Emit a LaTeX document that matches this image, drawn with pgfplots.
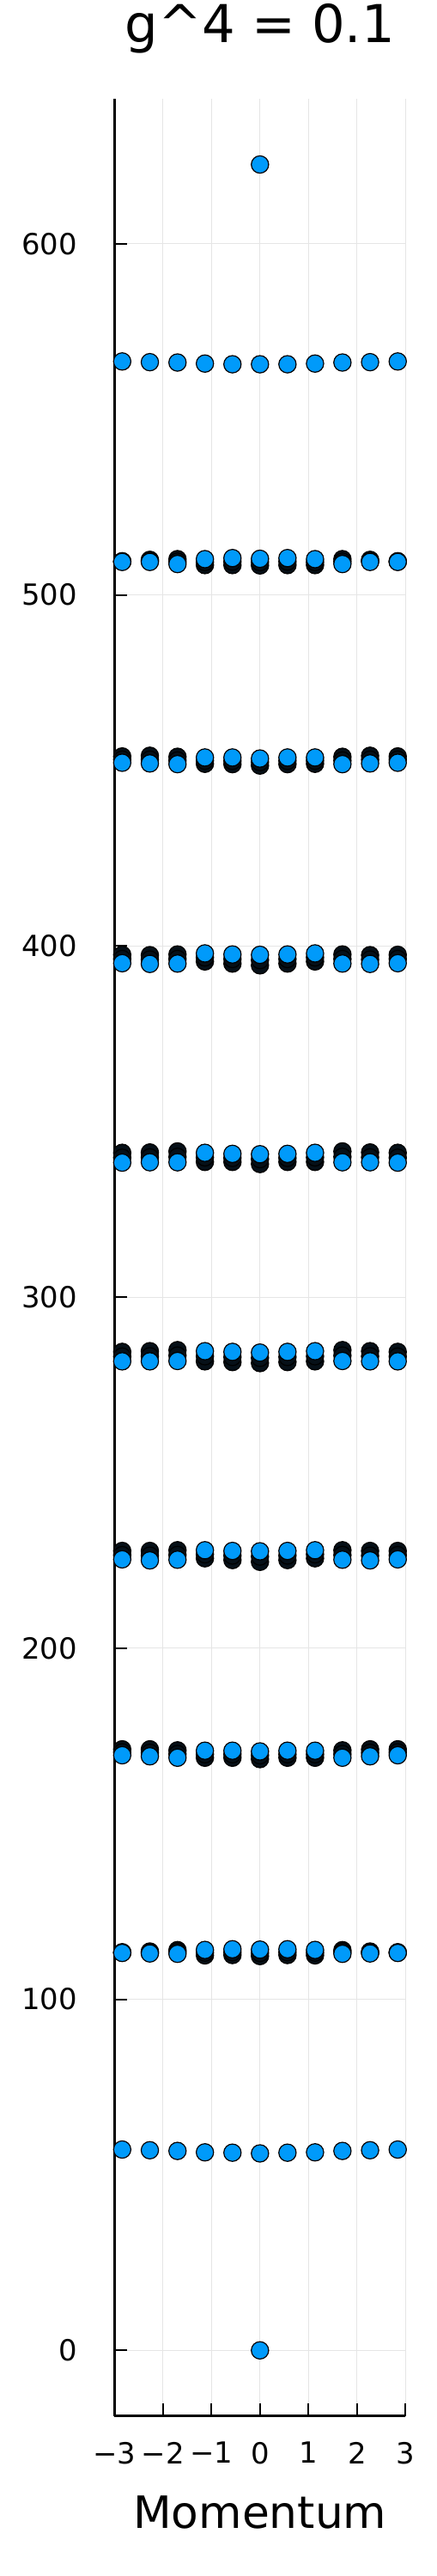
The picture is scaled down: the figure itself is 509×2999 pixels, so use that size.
\documentclass[border=0pt]{standalone}
\usepackage{fontspec}
\setmainfont{DejaVu Sans}
\usepackage{pgfplots}
\usepackage{pgfplotstable}
\pgfplotsset{compat=1.18}
\definecolor{jblue}{RGB}{0,154,250}
\definecolor{stackcol}{RGB}{6,16,24}

% visible (top-drawn) markers of every band
\pgfplotstableread{
k      b57  b113   b170  b226  b283  b340  b396  b453  b509  b566
-2.84  57.2 113.2  169.5 225.3 281.7 338.3 395.1 452.2 509.4 566.5
-2.27  57.0 113.05 169.2 225.0 281.7 338.4 394.9 452.0 509.4 566.3
-1.70  56.8 112.95 168.8 225.2 281.8 338.4 395.0 451.8 508.8 566.2
-1.135 56.4 114.05 170.8 227.9 284.6 341.1 397.9 453.7 510.2 565.9
-0.567 56.3 114.25 170.8 227.7 284.4 340.8 397.6 453.7 510.5 565.7
0      56.1 114.15 170.6 227.6 284.2 340.7 397.5 453.4 510.3 565.7
0.567  56.3 114.25 170.8 227.7 284.4 340.8 397.6 453.7 510.5 565.7
1.135  56.4 114.05 170.8 227.9 284.6 341.1 397.9 453.7 510.2 565.9
1.70   56.8 112.95 168.8 225.2 281.8 338.4 395.0 451.8 508.8 566.2
2.27   57.0 113.05 169.2 225.0 281.7 338.4 394.9 452.0 509.4 566.3
2.84   57.2 113.2  169.5 225.3 281.7 338.3 395.1 452.2 509.4 566.5
}\visible

% far end of each stack of overlapping markers
\pgfplotstableread{
k      e113  e170  e226  e283  e340  e396  e453  e509
-2.84  113.4 171.2 227.7 284.4 341.1 397.5 454.0 509.6
-2.27  113.6 171.2 227.7 284.6 341.2 397.4 454.2 510.0
-1.70  114.0 170.9 227.9 284.9 341.5 397.6 453.9 510.2
-1.135 112.5 168.8 225.6 281.7 338.5 395.6 451.9 508.5
-0.567 112.6 168.8 225.1 281.5 338.5 395.0 451.8 508.5
0      112.3 168.4 224.6 281.2 337.9 394.5 451.4 508.4
0.567  112.6 168.8 225.1 281.5 338.5 395.0 451.8 508.5
1.135  112.5 168.8 225.6 281.7 338.5 395.6 451.9 508.5
1.70   114.0 170.9 227.9 284.9 341.5 397.6 453.9 510.2
2.27   113.6 171.2 227.7 284.6 341.2 397.4 454.2 510.0
2.84   113.4 171.2 227.7 284.4 341.1 397.5 454.0 509.6
}\extreme

% middle of each stack
\pgfplotstableread{
k      m113  m170   m226   m283   m340   m396   m453   m509
-2.84  113.3 170.35 226.5  283.05 339.7  396.3  453.1  509.5
-2.27  113.3 170.2  226.35 283.15 339.8  396.15 453.1  509.7
-1.70  113.5 169.85 226.55 283.35 339.95 396.3  452.85 509.5
-1.135 113.3 169.8  226.75 283.15 339.8  396.75 452.8  509.35
-0.567 113.4 169.8  226.4  282.95 339.65 396.3  452.75 509.5
0      113.2 169.5  226.1  282.7  339.3  396.0  452.4  509.35
0.567  113.4 169.8  226.4  282.95 339.65 396.3  452.75 509.5
1.135  113.3 169.8  226.75 283.15 339.8  396.75 452.8  509.35
1.70   113.5 169.85 226.55 283.35 339.95 396.3  452.85 509.5
2.27   113.3 170.2  226.35 283.15 339.8  396.15 453.1  509.7
2.84   113.3 170.35 226.5  283.05 339.7  396.3  453.1  509.5
}\middle

\begin{document}
\begin{tikzpicture}
\begin{axis}[
  at={(133.3bp,-2812.7bp)}, anchor=south west,
  scale only axis, width=339bp, height=2697.7bp,
  xmin=-3, xmax=3, ymin=-18.7, ymax=641.3,
  axis x line=bottom, axis y line=left,
  axis line style={-, line width=2.7bp, black},
  xtick={-3,-2,-1,0,1,2,3},
  xticklabels={−3,−2,−1,0,1,2,3},
  ytick={0,100,200,300,400,500,600},
  tick align=inside,
  major tick length=15bp,
  every tick/.style={black, line width=2bp},
  grid=major,
  major grid style={black!10, line width=1.1bp},
  /pgf/number format/assume math mode=true,
  ticklabel style={font=\fontsize{34}{40}\selectfont, inner sep=0pt},
  xticklabel style={anchor=north, yshift=-30.3bp},
  yticklabel style={anchor=east, xshift=-43bp},
  title={g\textasciicircum 4 = 0.1},
  title style={font=\fontsize{61}{70}\selectfont, at={(axis description cs:0.5,1)}, anchor=base, yshift=60bp, inner sep=0pt},
  xlabel={Momentum},
  xlabel style={font=\fontsize{52}{60}\selectfont, at={(axis description cs:0.5,0)}, anchor=base, yshift=-130.6bp, inner sep=0pt},
  cycle list={{only marks}},
  stackmk/.style={only marks, mark=*, mark size=10.1bp, mark options={fill=stackcol, draw=black, line width=1.2bp}},
  bluemk/.style={only marks, mark=*, mark size=10.1bp, mark options={fill=jblue, draw=black, line width=1.2bp}},
]
\pgfplotsinvokeforeach{e113,e170,e226,e283,e340,e396,e453,e509}{
  \addplot[stackmk] table[x=k, y=#1] {\extreme};
}
\pgfplotsinvokeforeach{m113,m170,m226,m283,m340,m396,m453,m509}{
  \addplot[stackmk] table[x=k, y=#1] {\middle};
}
\pgfplotsinvokeforeach{b57,b113,b170,b226,b283,b340,b396,b453,b509,b566}{
  \addplot[bluemk] table[x=k, y=#1] {\visible};
}
\addplot[bluemk] coordinates {(0,0) (0,622.6)};
\end{axis}
\pgfresetboundingbox
\path[use as bounding box] (0,0) rectangle (509bp,-2999bp);
\end{tikzpicture}
\end{document}
